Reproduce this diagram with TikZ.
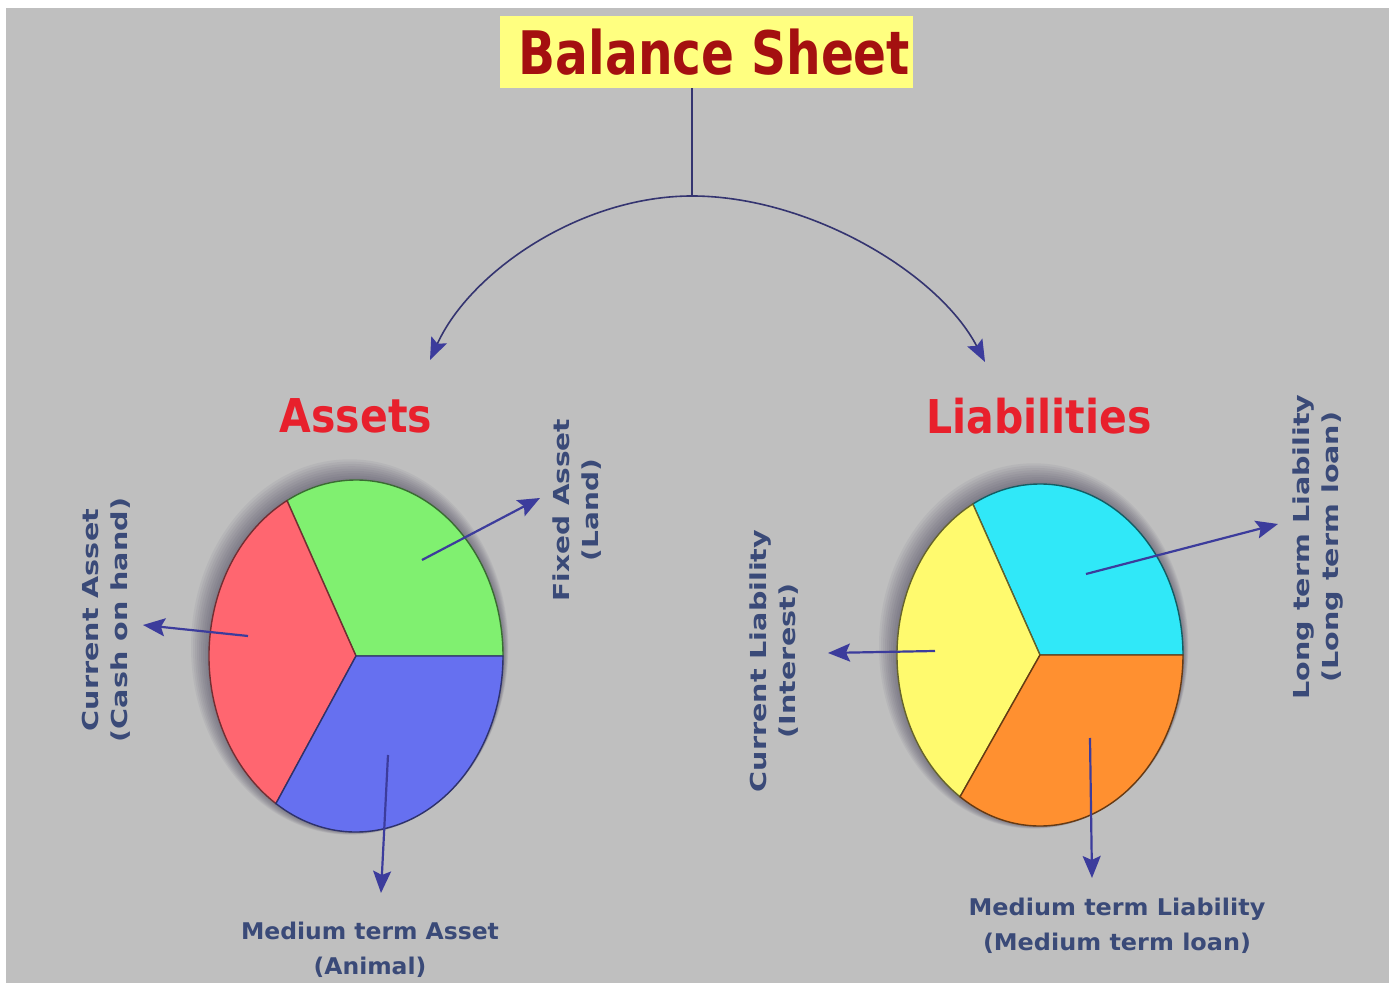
\documentclass[tikz,border=0pt]{standalone}
\usepackage{fontspec}
\setmainfont{DejaVu Sans}
\usepackage{graphicx}
\usetikzlibrary{arrows.meta}

\definecolor{bg}{HTML}{BFBFBF}
\definecolor{titlefill}{HTML}{FFFF80}
\definecolor{titletext}{HTML}{A41010}
\definecolor{headred}{HTML}{E8202C}
\definecolor{lbltext}{HTML}{3A4A78}
\definecolor{arrC}{HTML}{3C3C9C}
\definecolor{linkC}{HTML}{343470}
\definecolor{shadowC}{HTML}{2A2440}
\definecolor{pRed}{HTML}{FF6670}
\definecolor{pGreen}{HTML}{80F070}
\definecolor{pBlue}{HTML}{6670F0}
\definecolor{pYellow}{HTML}{FFFA6E}
\definecolor{pCyan}{HTML}{30E8F8}
\definecolor{pOrange}{HTML}{FF9030}

\begin{document}
\begin{tikzpicture}[x=0.5pt,y=-0.5pt,
  titlebox/.style={fill=titlefill, inner sep=0pt, minimum width=206.5pt, minimum height=36pt,
    text=titletext, font=\fontsize{30}{36}\selectfont\bfseries},
  heading/.style={inner sep=0pt, text=headred, font=\fontsize{23.3}{28}\selectfont\bfseries},
  sidelbl/.style={inner sep=0pt, rotate=90, text=lbltext, font=\fontsize{11}{14.5}\selectfont\bfseries},
  botlbl/.style={inner sep=0pt, text=lbltext, font=\fontsize{11.5}{17.5}\selectfont\bfseries},
  arr/.style={draw=arrC, line width=1.1pt, -{Stealth[length=11pt,width=9pt,inset=2pt]}},
  link/.style={draw=linkC, line width=0.8pt},
  curvearr/.style={draw=linkC, line width=0.8pt, -{Stealth[length=11pt,width=8.5pt,inset=2pt,color=arrC]}},
  slice/.style={line width=0.7pt}
]
% page and grey backdrop
\useasboundingbox (0,0) rectangle (1389,983);
\fill[white] (0,0) rectangle (1389,983);
\fill[bg] (6,8) rectangle (1389,983);

% title and the split into two branches
\node[titlebox] (title) at (706.5,52) {\hspace{8pt}\scalebox{0.81}[1]{Balance Sheet}};
\coordinate (apex) at (692,196);
\coordinate (leftend) at (430,360);
\coordinate (rightend) at (985,362);
\draw[link] (apex |- title.south) -- (apex);
\draw[curvearr] (apex) .. controls (580,196) and (470,272) .. (leftend);
\draw[curvearr] (apex) .. controls (808,196) and (938,272) .. (rightend);

% headings
\node[heading] (assets) at (356,416) {\scalebox{0.88}[1]{Assets}};
\node[heading] (liab) at (1039,416) {\scalebox{0.88}[1]{Liabilities}};

% soft shadows behind the two pies, heavier towards the upper left
\foreach \i in {1,...,9} {
  \fill[shadowC, opacity=0.055] ({356-0.7*\i},{656-1.0*\i}) ellipse [x radius={147+1.3*\i}, y radius={176+1.3*\i}];
  \fill[shadowC, opacity=0.055] ({1040-0.7*\i},{655-1.0*\i}) ellipse [x radius={143+1.3*\i}, y radius={171+1.3*\i}];
}

% assets pie
\filldraw[slice, fill=pGreen, draw=pGreen!45!black] (356,656) -- ++(0:147 and 176)
  arc[start angle=0, end angle=-118, x radius=147, y radius=176] -- cycle;
\filldraw[slice, fill=pRed, draw=pRed!45!black] (356,656) -- ++(-118:147 and 176)
  arc[start angle=-118, end angle=-237, x radius=147, y radius=176] -- cycle;
\filldraw[slice, fill=pBlue, draw=pBlue!45!black] (356,656) -- ++(-237:147 and 176)
  arc[start angle=-237, end angle=-360, x radius=147, y radius=176] -- cycle;

% liabilities pie
\filldraw[slice, fill=pCyan, draw=pCyan!40!black] (1040,655) -- ++(0:143 and 171)
  arc[start angle=0, end angle=-118, x radius=143, y radius=171] -- cycle;
\filldraw[slice, fill=pYellow, draw=pYellow!40!black] (1040,655) -- ++(-118:143 and 171)
  arc[start angle=-118, end angle=-236, x radius=143, y radius=171] -- cycle;
\filldraw[slice, fill=pOrange, draw=pOrange!40!black] (1040,655) -- ++(-236:143 and 171)
  arc[start angle=-236, end angle=-360, x radius=143, y radius=171] -- cycle;

% labels
\node[sidelbl] (curA) at (107,620) {\scalebox{1.30}[1]{\begin{tabular}{@{}c@{}}Current Asset\\(Cash on hand)\end{tabular}}};
\node[sidelbl] (fixA) at (578,510) {\scalebox{1.27}[1]{\begin{tabular}{@{}c@{}}Fixed Asset\\(Land)\end{tabular}}};
\node[botlbl] (medA) at (370,950) {\scalebox{1.02}[1]{\begin{tabular}{@{}c@{}}Medium term Asset\\(Animal)\end{tabular}}};
\node[sidelbl] (curL) at (775,661) {\scalebox{1.30}[1]{\begin{tabular}{@{}c@{}}Current Liability\\(Interest)\end{tabular}}};
\node[sidelbl] (longL) at (1318,547) {\scalebox{1.30}[1]{\begin{tabular}{@{}c@{}}Long term Liability\\(Long term loan)\end{tabular}}};
\node[botlbl] (medL) at (1117,926) {\scalebox{1.04}[1]{\begin{tabular}{@{}c@{}}Medium term Liability\\(Medium term loan)\end{tabular}}};

% pointers from each slice
\coordinate (gIn) at (422,560);  \coordinate (gOut) at (540,498);
\coordinate (rIn) at (248,636);  \coordinate (rOut) at (143,625);
\coordinate (bIn) at (388,755);  \coordinate (bOut) at (381,893);
\coordinate (cIn) at (1086,574); \coordinate (cOut) at (1278,524);
\coordinate (yIn) at (935,651);  \coordinate (yOut) at (828,653);
\coordinate (oIn) at (1090,738); \coordinate (oOut) at (1092,878);
\draw[arr] (gIn) -- (gOut);
\draw[arr] (rIn) -- (rOut);
\draw[arr] (bIn) -- (bOut);
\draw[arr] (cIn) -- (cOut);
\draw[arr] (yIn) -- (yOut);
\draw[arr] (oIn) -- (oOut);
\end{tikzpicture}
\end{document}
